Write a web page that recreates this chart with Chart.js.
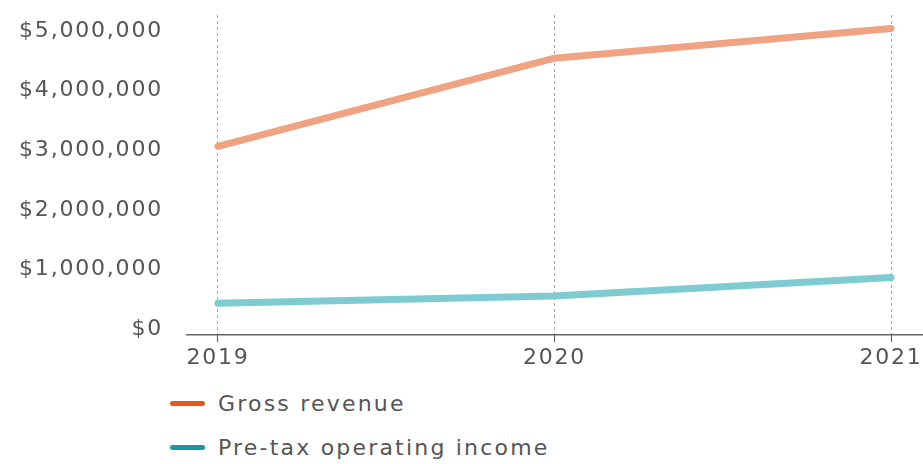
<!DOCTYPE html>
<html>
<head>
<meta charset="utf-8">
<script src="https://cdn.jsdelivr.net/npm/chart.js@4.4.0/dist/chart.umd.min.js"></script>
<style>
body { margin: 0; background: #fff; width: 923px; height: 464px; overflow: hidden; font-family: "DejaVu Sans", sans-serif; }
#wrap { position: absolute; left: 0; top: 0; width: 923px; height: 380px; }
#legend { position: absolute; left: 170px; top: 381px; }
.item { display: flex; align-items: center; height: 44px; color: #555; font-size: 22px; letter-spacing: 2.2px; }
.swatch { width: 35px; height: 5px; border-radius: 3px; margin-right: 13px; }
</style>
</head>
<body>
<div id="wrap"><canvas id="chart"></canvas></div>
<div id="legend"></div>
<script>
let years = [2019, 2020, 2021];
let grossRevenue = [3030000, 4510000, 5010000];
let preTaxIncome = [400000, 520000, 830000];
let yTicks = [0, 1000000, 2000000, 3000000, 4000000, 5000000];

let seriesNames = ['Gross revenue', 'Pre-tax operating income'];
let lineColors = ['#f0a382', '#7ecbd1'];
let legendColors = ['#e05a1e', '#1a97a5'];

let yMin = -134000;
let yMax = 5235000;

function toPoints(values) {
    return values.map((v, i) => ({ x: years[i], y: v }));
}

// letter spacing for the axis text
const spacing = {
    id: 'spacing',
    beforeDraw(chart) { chart.ctx.letterSpacing = '1.8px'; }
};

function noPadding(s) {
    s.paddingTop = 0; s.paddingBottom = 0; s.paddingLeft = 0; s.paddingRight = 0;
}

var ctx = document.getElementById('chart').getContext('2d');
var chart = new Chart(ctx, {
    type: 'line',
    data: {
        datasets: [
            { label: seriesNames[0], data: toPoints(grossRevenue), borderColor: lineColors[0] },
            { label: seriesNames[1], data: toPoints(preTaxIncome), borderColor: lineColors[1] }
        ]
    },
    options: {
        responsive: true,
        maintainAspectRatio: false,
        animation: false,
        layout: { padding: { top: 15, right: 0, left: 0, bottom: 0 } },
        elements: {
            line: { borderWidth: 7, tension: 0, borderCapStyle: 'round', borderJoinStyle: 'round' },
            point: { radius: 0 }
        },
        plugins: { legend: { display: false }, tooltip: { enabled: false } },
        scales: {
            x: {
                type: 'linear',
                min: 2018.905,
                max: 2021.095,
                afterBuildTicks: s => { s.ticks = years.map(v => ({ value: v })); },
                afterFit: s => { s.height = 45; noPadding(s); },
                grid: {
                    color: '#a8a8a8',
                    lineWidth: 1,
                    drawTicks: true,
                    tickLength: 7,
                    tickColor: '#666',
                    tickBorderDash: [],
                    tickWidth: 1.2
                },
                border: { display: false, dash: [3, 3] },
                ticks: {
                    autoSkip: false,
                    maxRotation: 0,
                    padding: 3,
                    color: '#555',
                    font: { family: 'DejaVu Sans', size: 22 },
                    callback: v => String(v)
                }
            },
            y: {
                min: yMin,
                max: yMax,
                afterBuildTicks: s => { s.ticks = [yMin].concat(yTicks).map(v => ({ value: v })); },
                afterFit: s => { s.width = 186; noPadding(s); },
                grid: {
                    drawTicks: false,
                    lineWidth: 1.5,
                    color: c => (c.tick && c.tick.value === yMin) ? '#666' : 'rgba(0,0,0,0)'
                },
                border: { display: false },
                ticks: {
                    padding: 23,
                    labelOffset: 2,
                    color: '#555',
                    font: { family: 'DejaVu Sans', size: 22 },
                    callback: v => v === yMin ? '' : '$' + v.toLocaleString('en-US')
                }
            }
        }
    },
    plugins: [spacing]
});

let legend = document.getElementById('legend');
seriesNames.forEach((name, i) => {
    let row = document.createElement('div');
    row.className = 'item';
    let sw = document.createElement('span');
    sw.className = 'swatch';
    sw.style.background = legendColors[i];
    let txt = document.createElement('span');
    txt.textContent = name;
    row.appendChild(sw);
    row.appendChild(txt);
    legend.appendChild(row);
});
</script>
</body>
</html>
